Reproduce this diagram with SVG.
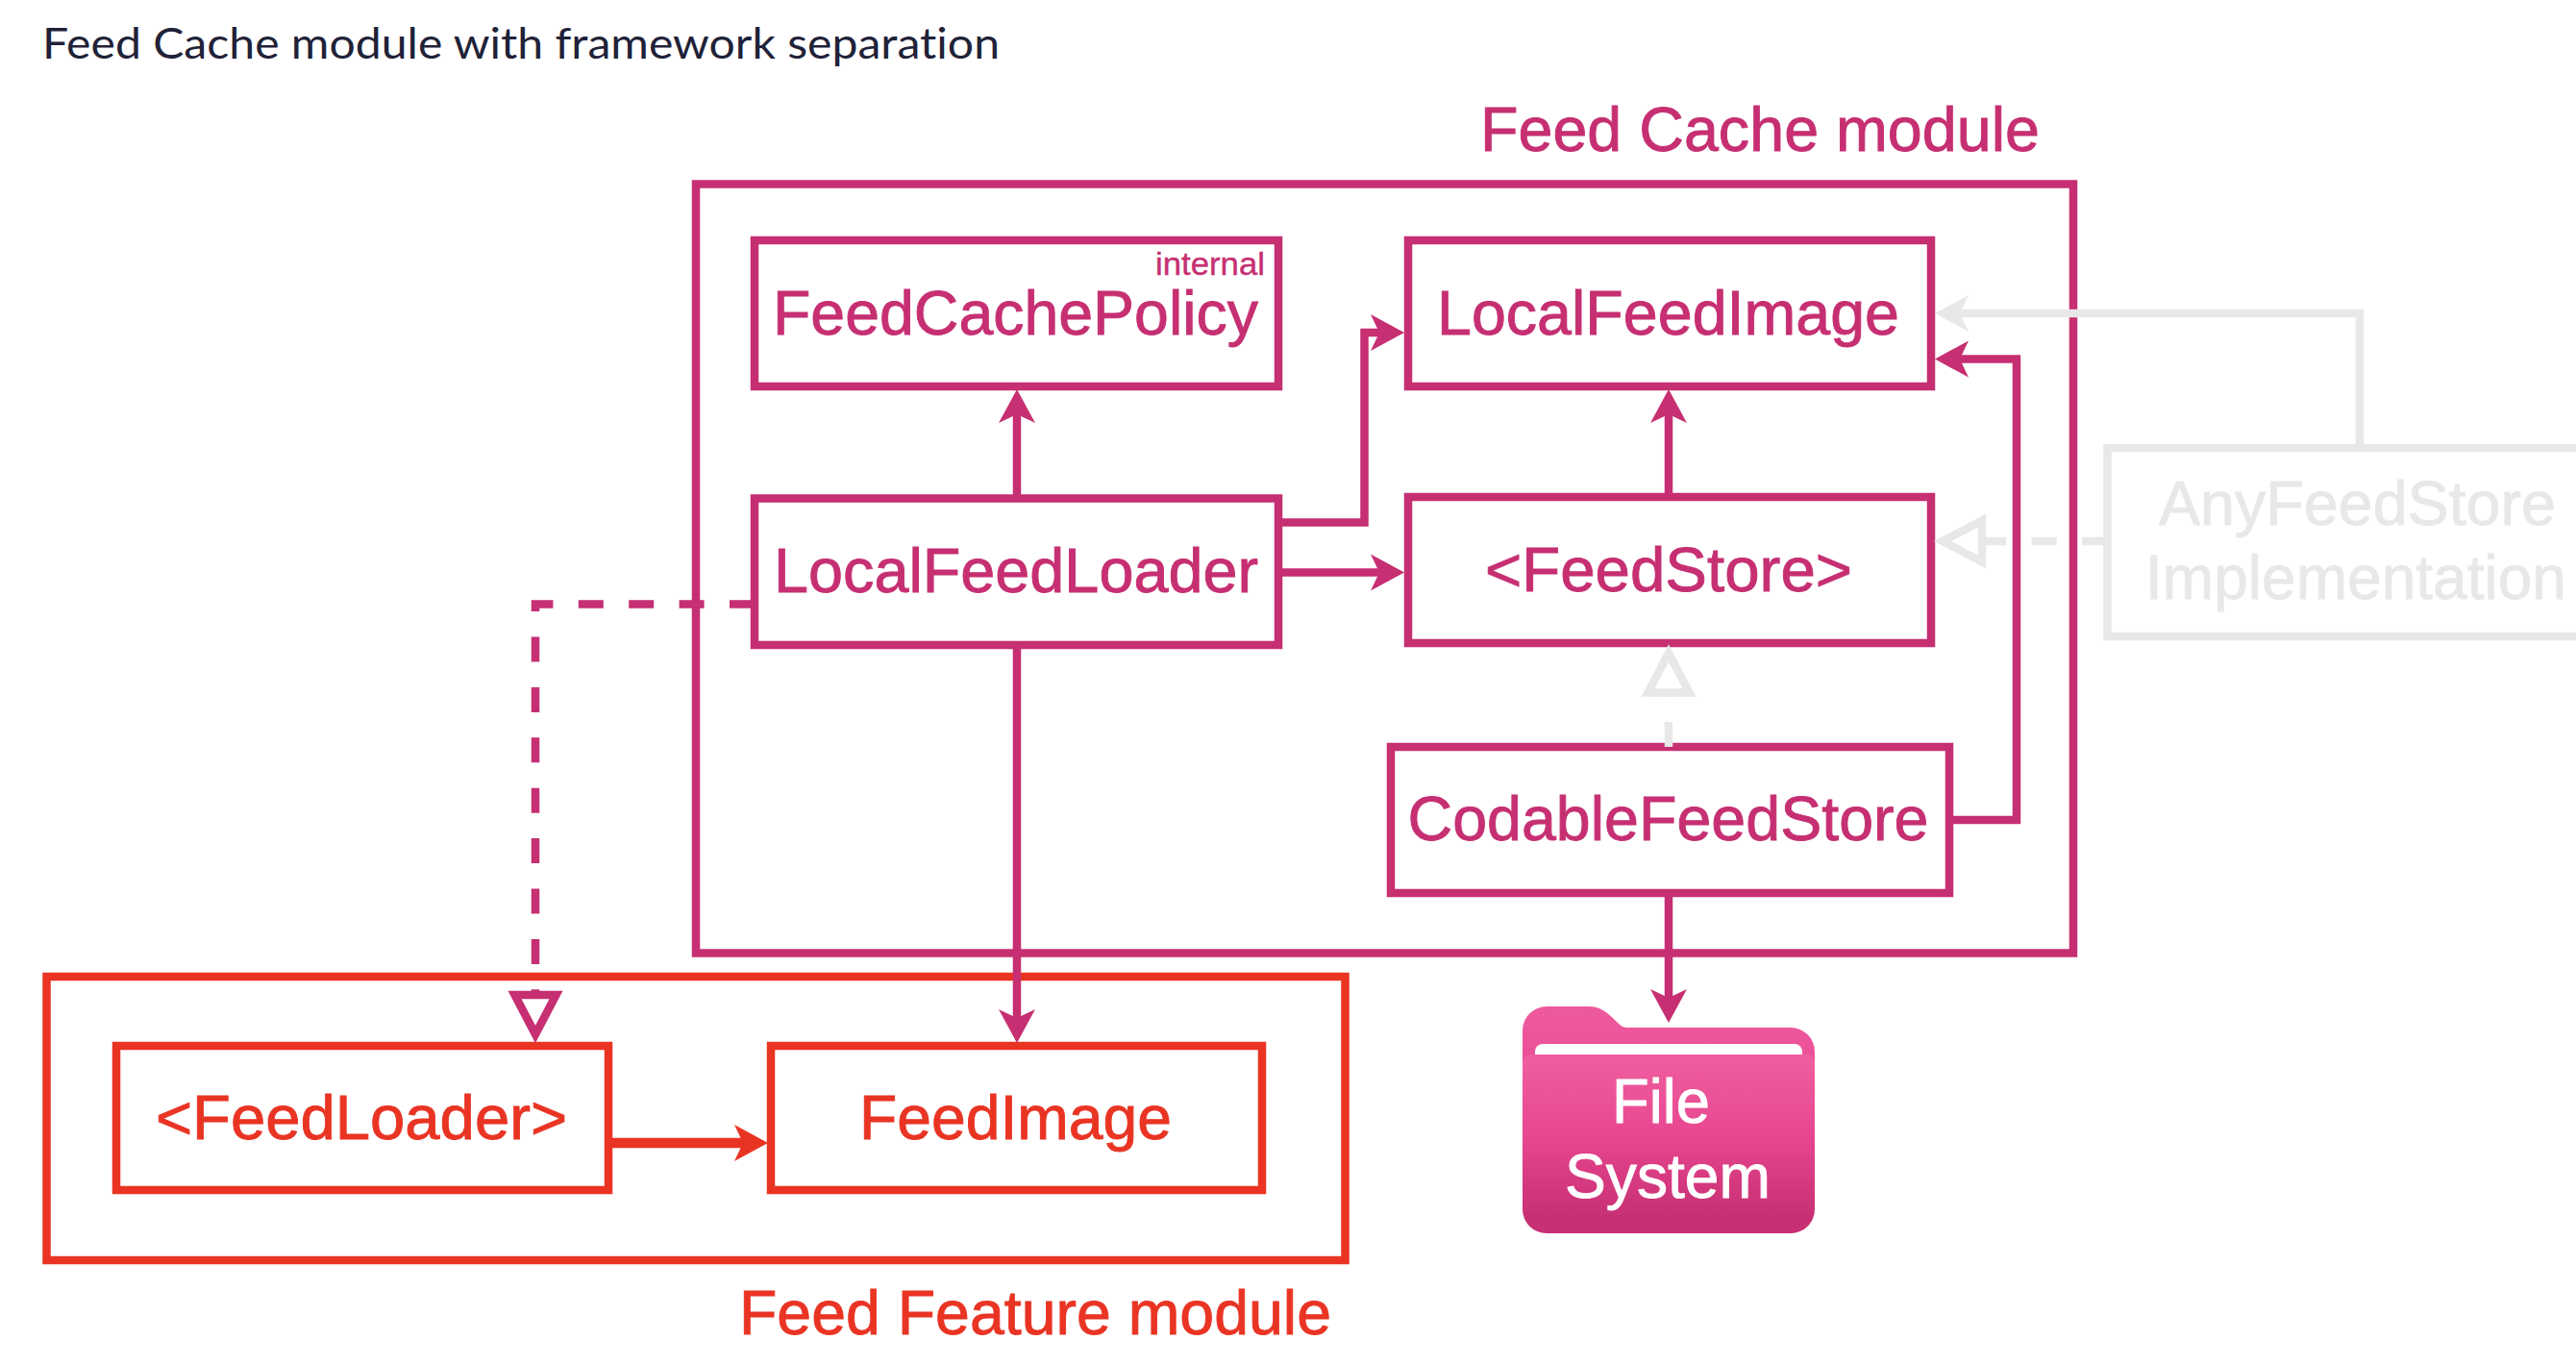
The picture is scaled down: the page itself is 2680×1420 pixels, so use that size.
<svg xmlns="http://www.w3.org/2000/svg" width="2680" height="1420" viewBox="0 0 2680 1420">
<style>
text{font-family:"Liberation Sans",Arial,sans-serif;stroke-width:.9}
.title{font-family:"Lato","Open Sans",sans-serif;font-size:44px;fill:#1f2238;stroke-width:0;font-variant-ligatures:none}
.m{fill:#c62f72;stroke:#c62f72}.r{fill:#e93424;stroke:#e93424}.g{fill:#e8e8e8;stroke:#e8e8e8}.w{fill:#fff;stroke:#fff}
.lab{font-size:65px}
.bm,.br,.bg{fill:#fff;stroke-width:8.5}
.bm{stroke:#c62f72}.br{stroke:#e93424}.bg{stroke:#e8e8e8}
.c{fill:none;stroke-width:8.5}
.cm{stroke:#c62f72}.cr{stroke:#e93424}.cg{stroke:#e8e8e8}
.d{stroke-dasharray:26 26.4}
</style>
<defs>
<marker id="am" markerUnits="userSpaceOnUse" viewBox="0 -30 60 60" markerWidth="60" markerHeight="60" refX="10" refY="0" orient="auto"><path d="M0-19L35 0L0 19L9 0Z" fill="#c62f72"/></marker>
<marker id="ar" markerUnits="userSpaceOnUse" viewBox="0 -30 60 60" markerWidth="60" markerHeight="60" refX="10" refY="0" orient="auto"><path d="M0-19L35 0L0 19L9 0Z" fill="#e93424"/></marker>
<marker id="ag" markerUnits="userSpaceOnUse" viewBox="0 -30 60 60" markerWidth="60" markerHeight="60" refX="10" refY="0" orient="auto"><path d="M0-19L35 0L0 19L9 0Z" fill="#e8e8e8"/></marker>
<marker id="hm" markerUnits="userSpaceOnUse" viewBox="-10 -35 70 70" markerWidth="70" markerHeight="70" refX="0" refY="0" orient="auto"><path d="M0-21.5L41 0L0 21.5Z" fill="#fff" stroke="#c62f72" stroke-width="8.5"/></marker>
<marker id="hg" markerUnits="userSpaceOnUse" viewBox="-10 -35 70 70" markerWidth="70" markerHeight="70" refX="0" refY="0" orient="auto"><path d="M0-21.5L41 0L0 21.5Z" fill="#fff" stroke="#e8e8e8" stroke-width="8.5"/></marker>
<linearGradient id="fb" x1="0" y1="0" x2="0" y2="1"><stop offset="0" stop-color="#ee5a9e"/><stop offset="1" stop-color="#e8448f"/></linearGradient>
<linearGradient id="ff" x1="0" y1="0" x2="0" y2="1"><stop offset="0" stop-color="#ef5fa0"/><stop offset=".45" stop-color="#e8478f"/><stop offset=".9" stop-color="#c83074"/><stop offset="1" stop-color="#c83074"/></linearGradient>
</defs>
<rect width="2680" height="1420" fill="#fff"/>
<text class="title" x="44" y="60.5" textLength="996" lengthAdjust="spacingAndGlyphs">Feed Cache module with framework separation</text>

<g id="feed-cache-module">
<rect class="bm" x="724" y="191.5" width="1433" height="800"/>
<text class="lab m" x="1540" y="157" textLength="582" lengthAdjust="spacingAndGlyphs">Feed Cache module</text>
</g>
<g id="feed-feature-module">
<rect class="br" x="48.5" y="1016" width="1351" height="295"/>
<text class="lab r" x="769" y="1388" textLength="616" lengthAdjust="spacingAndGlyphs">Feed Feature module</text>
</g>

<g id="feed-cache-policy">
<rect class="bm" x="785" y="250" width="545" height="152"/>
<text class="m" x="1202" y="286" font-size="34" textLength="114" lengthAdjust="spacingAndGlyphs" style="stroke-width:.4">internal</text>
<text class="lab m" x="804" y="348" textLength="505" lengthAdjust="spacingAndGlyphs">FeedCachePolicy</text>
</g>
<g id="local-feed-image">
<rect class="bm" x="1465" y="250" width="544" height="152"/>
<text class="lab m" x="1495" y="348" textLength="481" lengthAdjust="spacingAndGlyphs">LocalFeedImage</text>
</g>
<g id="local-feed-loader">
<rect class="bm" x="785" y="518.5" width="545" height="152.5"/>
<text class="lab m" x="805" y="616" textLength="504" lengthAdjust="spacingAndGlyphs">LocalFeedLoader</text>
</g>
<g id="feed-store">
<rect class="bm" x="1465" y="517" width="544" height="152"/>
<text class="lab m" x="1545" y="615" textLength="382" lengthAdjust="spacingAndGlyphs">&lt;FeedStore&gt;</text>
</g>
<g id="codable-feed-store">
<rect class="bm" x="1447" y="777" width="581" height="152"/>
<text class="lab m" x="1464.5" y="874" textLength="542" lengthAdjust="spacingAndGlyphs">CodableFeedStore</text>
</g>
<g id="any-feed-store">
<rect class="bg" x="2192.5" y="466" width="520" height="196"/>
<text class="lab g" x="2246" y="546" textLength="413" lengthAdjust="spacingAndGlyphs">AnyFeedStore</text>
<text class="lab g" x="2232" y="623" textLength="438" lengthAdjust="spacingAndGlyphs">Implementation</text>
</g>
<g id="feed-loader">
<rect class="br" x="121" y="1088" width="512" height="150"/>
<text class="lab r" x="162" y="1185" textLength="428" lengthAdjust="spacingAndGlyphs">&lt;FeedLoader&gt;</text>
</g>
<g id="feed-image">
<rect class="br" x="802" y="1088" width="511" height="150"/>
<text class="lab r" x="894" y="1185" textLength="325" lengthAdjust="spacingAndGlyphs">FeedImage</text>
</g>
<g id="file-system">
<path d="M1584 1072a25 25 0 0 1 25-25h44c12 0 18 6 25 12c6 6 9 10 15 10h170a25 25 0 0 1 25 25v80h-304z" fill="url(#fb)"/>
<path d="M1597 1097v-3a8 8 0 0 1 8-8h262a8 8 0 0 1 8 8v3z" fill="#fff"/>
<path d="M1584 1106a9 9 0 0 1 9-9h286a9 9 0 0 1 9 9v152a25 25 0 0 1-25 25h-254a25 25 0 0 1-25-25z" fill="url(#ff)"/>
<text class="lab w" x="1677" y="1168" textLength="102" lengthAdjust="spacingAndGlyphs">File</text>
<text class="lab w" x="1628" y="1246" textLength="214" lengthAdjust="spacingAndGlyphs">System</text>
</g>

<g id="connectors">
<path class="c cm" d="M1058 518V430" marker-end="url(#am)"/>
<path class="c cm" d="M1330 543.5H1419.5V346H1436" marker-end="url(#am)"/>
<path class="c cm" d="M1330 595.5H1436" marker-end="url(#am)"/>
<path class="c cm" d="M1736 517V430" marker-end="url(#am)"/>
<path class="c cm" d="M2028 853H2098V373.5H2038" marker-end="url(#am)"/>
<path class="c cm" d="M1058 671V1060" marker-end="url(#am)"/>
<path class="c cm" d="M1736 929V1039" marker-end="url(#am)"/>
<path class="c cm d" d="M785 628.5H557V1035" marker-end="url(#hm)"/>
<path class="c cr" style="stroke-width:10.5" d="M633 1189H774" marker-end="url(#ar)"/>
<path class="c cg" d="M2455 466V326H2038" marker-end="url(#ag)"/>
<path class="c cg d" d="M2192 563H2062" marker-end="url(#hg)"/>
<path class="c cg d" d="M1736 777V720.5" marker-end="url(#hg)"/>
</g>
</svg>
